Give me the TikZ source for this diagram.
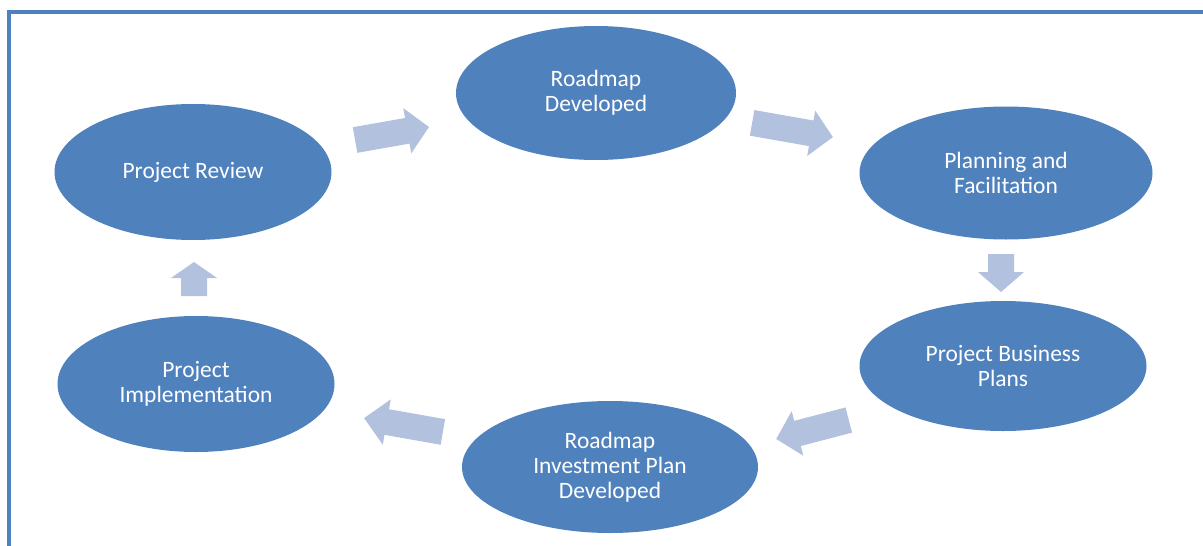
\documentclass[tikz,border=0pt]{standalone}
\usepackage{fontspec}
\setmainfont{Carlito}
\usetikzlibrary{shapes.geometric}
\definecolor{ellblue}{HTML}{4F81BD}
\definecolor{arrfill}{HTML}{B2C1DD}
\tikzset{
  stage/.style={ellipse, fill=ellblue, draw=none, text=white, align=center,
    font=\fontsize{17.6}{18.6}\selectfont, inner sep=0pt},
  pics/barrow/.style 2 args={code={
    \fill[arrfill] (-#1/2,-13) -- (#1/2-#2,-13) -- (#1/2-#2,-23) -- (#1/2,0)
      -- (#1/2-#2,23) -- (#1/2-#2,13) -- (-#1/2,13) -- cycle;}}
}
\begin{document}
\begin{tikzpicture}[x=0.75pt,y=-0.75pt]
\useasboundingbox (0,0) rectangle (1203,546);
% frame
\draw[ellblue, line width=3pt] (9,560) -- (9,12) -- (1215,12);
% stages
\node[stage, minimum width=207.75pt, minimum height=102pt] (review) at (193,172) {Project Review};
\node[stage, minimum width=210pt, minimum height=100.5pt] (roadmap) at (596,93) {Roadmap\\Developed};
\node[stage, minimum width=219.75pt, minimum height=99.75pt] (planning) at (1006,173) {Planning and\\Facilitation};
\node[stage, minimum width=215.25pt, minimum height=97.5pt] (business) at (1003,366) {Project Business\\Plans};
\node[stage, minimum width=222pt, minimum height=99pt] (invest) at (610,467) {Roadmap\\Investment Plan\\Developed};
\node[stage, minimum width=207.75pt, minimum height=102pt] (impl) at (196,384) {Project\\Implementation};
% block arrows
\pic[rotate=10] at (392,133.5) {barrow={75}{22}};
\pic[rotate=-10] at (792.5,130) {barrow={82}{22}};
\pic[rotate=-90] at (1001,273) {barrow={38}{20}};
\pic[rotate=194.6] at (812.5,429.5) {barrow={75}{22}};
\pic[rotate=170] at (403.5,425) {barrow={80}{23}};
\pic[rotate=90] at (194,279) {barrow={34}{16}};
\end{tikzpicture}
\end{document}
